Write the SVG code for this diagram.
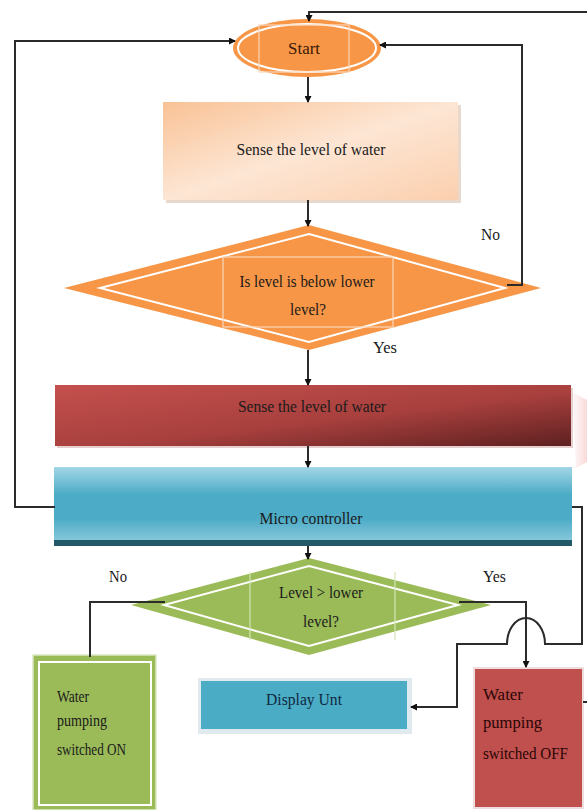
<svg xmlns="http://www.w3.org/2000/svg" width="587" height="810" viewBox="0 0 587 810">
<defs>
<marker id="ah" markerWidth="7" markerHeight="7" refX="6" refY="3.5" orient="auto" markerUnits="userSpaceOnUse">
<path d="M0,0 L7,3.5 L0,7 z" fill="#111"/>
</marker>
<linearGradient id="gPeach" x1="0" y1="0" x2="1" y2="1">
<stop offset="0" stop-color="#f9c296"/>
<stop offset="0.5" stop-color="#fde6d4"/>
<stop offset="1" stop-color="#fbcfae"/>
</linearGradient>
<linearGradient id="gRed" x1="0" y1="0" x2="1" y2="1">
<stop offset="0" stop-color="#c4504d"/>
<stop offset="0.55" stop-color="#a8403e"/>
<stop offset="1" stop-color="#5e2020"/>
</linearGradient>
<linearGradient id="gBlue" x1="0" y1="0" x2="0" y2="1">
<stop offset="0" stop-color="#a2d6e6"/>
<stop offset="0.35" stop-color="#4cabc6"/>
<stop offset="0.65" stop-color="#4cabc6"/>
<stop offset="1" stop-color="#94cfe0"/>
</linearGradient>
<linearGradient id="gPink" x1="0" y1="0" x2="1" y2="0">
<stop offset="0" stop-color="#f9dada" stop-opacity="0.2"/>
<stop offset="1" stop-color="#f4b8b8" stop-opacity="0.55"/>
</linearGradient>
</defs>
<style>
.t{font-family:"Liberation Serif","Times New Roman",serif;font-size:17px;fill:#1a1a1a}
.c{text-anchor:middle}
.conn{fill:none;stroke:#2b2b2b;stroke-width:2}
.arr{marker-end:url(#ah)}
.wl{fill:none;stroke:#fff;stroke-width:2}
.lt{fill:none;stroke:#fbd6b8;stroke-width:1.2}
</style>
<rect width="587" height="810" fill="#fff"/>
<polygon points="572,392 587,400 587,462 576,468" fill="url(#gPink)"/>

<g id="start">
<ellipse cx="307" cy="48" rx="74" ry="29" fill="#f79646"/>
<ellipse cx="307" cy="48" rx="69" ry="24" class="wl"/>
<rect x="259" y="25" width="90" height="47" class="lt"/>
<text class="t c" x="304" y="54" textLength="32" lengthAdjust="spacingAndGlyphs" style="fill:#3a1a08">Start</text>
</g>

<g id="sense1">
<rect x="166" y="105" width="295" height="98" fill="#e8d9cc"/>
<rect x="163" y="102" width="295" height="98" fill="url(#gPeach)"/>
<text class="t c" x="311" y="155" textLength="149" lengthAdjust="spacingAndGlyphs">Sense the level of water</text>
</g>

<g id="decision1">
<polygon points="309,225 541,288 309,350 64,288" fill="#f79646"/>
<polygon points="309,234 505,288 309,342 100,288" class="wl"/>
<rect x="223" y="257" width="170" height="70" class="lt"/>
<text class="t c" x="307" y="287" textLength="135" lengthAdjust="spacingAndGlyphs">Is level is below lower</text>
<text class="t c" x="308" y="315" textLength="36" lengthAdjust="spacingAndGlyphs">level?</text>
</g>

<g id="sense2">
<rect x="57" y="388" width="516" height="60" fill="#e6cfcf"/>
<rect x="55" y="385" width="516" height="61" fill="url(#gRed)"/>
<text class="t c" x="312" y="412" textLength="148" lengthAdjust="spacingAndGlyphs">Sense the level of water</text>
</g>

<g id="micro">
<rect x="54" y="467" width="518" height="79" fill="url(#gBlue)"/>
<rect x="54" y="540" width="518" height="6" fill="#215968"/>
<text class="t c" x="311" y="524" textLength="103" lengthAdjust="spacingAndGlyphs">Micro controller</text>
</g>

<g id="decision2">
<polygon points="309,558 491,605 309,655 131,605" fill="#9bbb59"/>
<polygon points="309,566 458,605 309,646 164,605" class="wl"/>
<line x1="250" y1="572" x2="250" y2="640" stroke="#d6e6b8" stroke-width="1.2"/>
<line x1="395" y1="572" x2="395" y2="640" stroke="#d6e6b8" stroke-width="1.2"/>
<text class="t c" x="321" y="598" textLength="84" lengthAdjust="spacingAndGlyphs">Level &gt; lower</text>
<text class="t c" x="321" y="627" textLength="36" lengthAdjust="spacingAndGlyphs">level?</text>
</g>

<g id="pumpOn">
<rect x="33" y="655" width="123" height="155" fill="#9bbb59" stroke="#dbe8c4" stroke-width="1.5"/>
<rect x="39" y="662" width="112" height="143" fill="none" stroke="#fff" stroke-width="2"/>
<text class="t" x="57" y="702" textLength="32" lengthAdjust="spacingAndGlyphs">Water</text>
<text class="t" x="57" y="726" textLength="50" lengthAdjust="spacingAndGlyphs">pumping</text>
<text class="t" x="57" y="755" textLength="69" lengthAdjust="spacingAndGlyphs">switched ON</text>
</g>

<g id="display">
<rect x="198" y="678" width="214" height="56" fill="#dfe9ee"/>
<rect x="201" y="681" width="206" height="48" fill="#4bacc6"/>
<text class="t c" x="304" y="705" textLength="76" lengthAdjust="spacingAndGlyphs" style="fill:#0f2a40">Display Unt</text>
</g>

<g id="pumpOff">
<rect x="474" y="668" width="109" height="140" fill="#c0504d" stroke="#efdcdc" stroke-width="2"/>
<text class="t" x="483" y="700" textLength="40" lengthAdjust="spacingAndGlyphs" style="fill:#2a0606">Water</text>
<text class="t" x="483" y="728" textLength="59" lengthAdjust="spacingAndGlyphs" style="fill:#2a0606">pumping</text>
<text class="t" x="483" y="759" textLength="85" lengthAdjust="spacingAndGlyphs" style="fill:#2a0606">switched OFF</text>
</g>

<g id="connectors">
<path class="conn arr" d="M587,12 H309 V21"/>
<path class="conn arr" d="M55,507 H15 V41 H235"/>
<path class="conn arr" d="M507,285 H522 V45 H380"/>
<path class="conn arr" d="M308,77 V102"/>
<path class="conn arr" d="M308,200 V226"/>
<path class="conn arr" d="M308,350 V385"/>
<path class="conn arr" d="M308,446 V467"/>
<path class="conn arr" d="M308,546 V559"/>
<path class="conn" d="M165,602 H90 V657"/>
<path class="conn arr" d="M459,602 H526 V667"/>
<path class="conn arr" d="M572,507 H582 V644 H545 A19,26 0 0 0 507,644 H457 V707 H411"/>
<path class="conn" d="M583,702 H587"/>
<text class="t" x="481" y="240" textLength="19" lengthAdjust="spacingAndGlyphs">No</text>
<text class="t" x="373" y="353" textLength="24" lengthAdjust="spacingAndGlyphs">Yes</text>
<text class="t" x="109" y="582" textLength="18" lengthAdjust="spacingAndGlyphs">No</text>
<text class="t" x="483" y="582" textLength="23" lengthAdjust="spacingAndGlyphs">Yes</text>
</g>
</svg>
